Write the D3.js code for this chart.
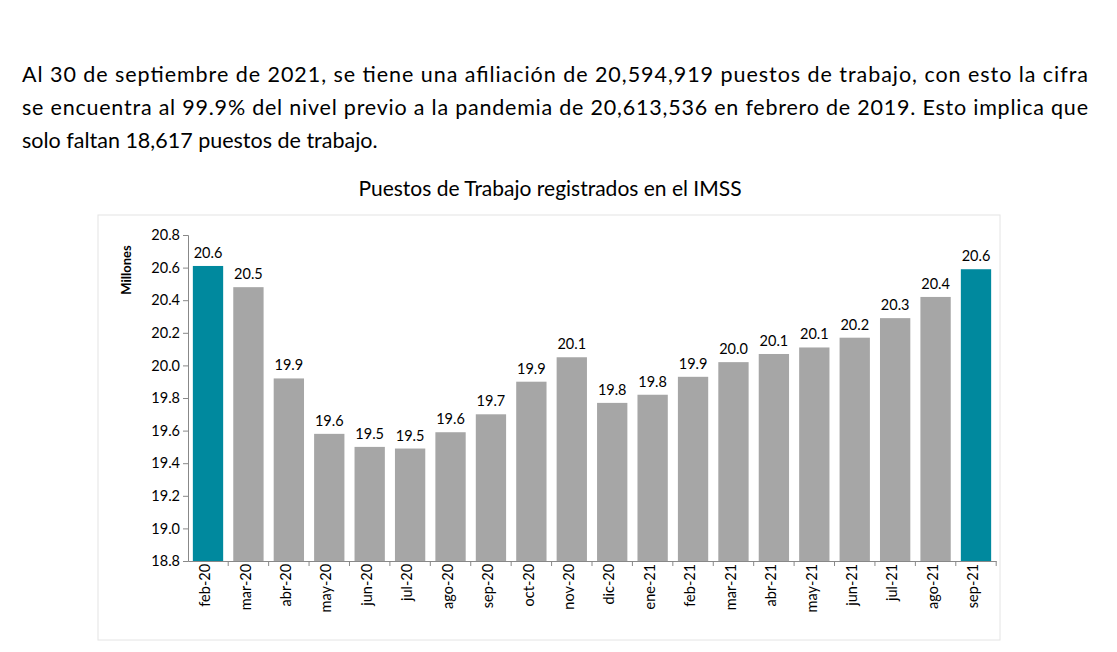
<!DOCTYPE html>
<html><head><meta charset="utf-8">
<script src="https://cdn.jsdelivr.net/npm/d3@7"></script>
<style>
body{margin:0;background:#fff;font-family:Lato,"Open Sans",sans-serif;}
</style></head>
<body><svg width="1117" height="652"></svg>
<script>
const categories = ["feb-20","mar-20","abr-20","may-20","jun-20","jul-20","ago-20","sep-20","oct-20","nov-20","dic-20","ene-21","feb-21","mar-21","abr-21","may-21","jun-21","jul-21","ago-21","sep-21"];
const values = [20.61,20.48,19.92,19.58,19.50,19.49,19.59,19.70,19.90,20.05,19.77,19.82,19.93,20.02,20.07,20.11,20.17,20.29,20.42,20.59];
const labels = ["20.6","20.5","19.9","19.6","19.5","19.5","19.6","19.7","19.9","20.1","19.8","19.8","19.9","20.0","20.1","20.1","20.2","20.3","20.4","20.6"];
const yTicks = [18.8,19.0,19.2,19.4,19.6,19.8,20.0,20.2,20.4,20.6,20.8];
const highlight = ["feb-20","sep-21"];
const paragraph = [
  "Al 30 de septiembre de 2021, se tiene una afiliación de 20,594,919 puestos de trabajo, con esto la cifra",
  "se encuentra al 99.9% del nivel previo a la pandemia de 20,613,536 en febrero de 2019. Esto implica que",
  "solo faltan 18,617 puestos de trabajo."
];

const svg = d3.select("svg");
svg.selectAll("text.p").data(paragraph).join("text")
  .attr("x", 22).attr("y", (d,i) => 82 + i*33)
  .attr("font-size", 21.5).attr("fill", "#000")
  .attr("textLength", (d,i) => i < 2 ? 1066 : null)
  .text(d => d);

svg.append("rect").attr("x", 98).attr("y", 215).attr("width", 902).attr("height", 425)
  .attr("fill", "none").attr("stroke", "#e4e4e4");

svg.append("text").attr("x", 550).attr("y", 196).attr("text-anchor", "middle")
  .attr("font-size", 21).text("Puestos de Trabajo registrados en el IMSS");

const x = d3.scaleBand().domain(categories).range([188, 996]).paddingInner(0.25).paddingOuter(0.12);
const y = d3.scaleLinear().domain([18.8, 20.8]).range([561, 235]);

const ya = svg.append("g").attr("transform", "translate(188,0)")
  .call(d3.axisLeft(y).tickValues(yTicks).tickFormat(d3.format(".1f")).tickSize(5));
ya.selectAll("text").attr("font-size", 14.5).attr("font-family", "Lato,sans-serif").attr("fill", "#000");
ya.selectAll("line,path").attr("stroke", "#888");

const xa = svg.append("g").attr("transform", "translate(0,561)")
  .call(d3.axisBottom(x).tickSize(0).tickPadding(8));
xa.selectAll("text").attr("font-size", 14.5).attr("font-family", "Lato,sans-serif").attr("fill", "#000")
  .attr("text-anchor", "end").attr("dx", "-0.2em").attr("dy", "-0.4em").attr("transform", "rotate(-90)");
xa.select("path").attr("stroke", "#888");
xa.selectAll(".tick").append("line").attr("x1", x.step()/2).attr("x2", x.step()/2).attr("y2", 5).attr("stroke", "#888");

svg.append("text").attr("transform", "translate(131,270) rotate(-90)").attr("text-anchor", "middle")
  .attr("font-size", 13).attr("font-weight", "bold").text("Millones");

svg.selectAll("rect.bar").data(categories).join("rect")
  .attr("x", d => x(d)).attr("width", x.bandwidth())
  .attr("y", (d,i) => y(values[i])).attr("height", (d,i) => 561 - y(values[i]))
  .attr("fill", d => highlight.includes(d) ? "#00899e" : "#a6a6a6");

svg.selectAll("text.lab").data(categories).join("text")
  .attr("x", d => x(d) + x.bandwidth()/2).attr("y", (d,i) => y(values[i]) - 8)
  .attr("text-anchor", "middle").attr("font-size", 14.5).text((d,i) => labels[i]);
</script></body></html>
